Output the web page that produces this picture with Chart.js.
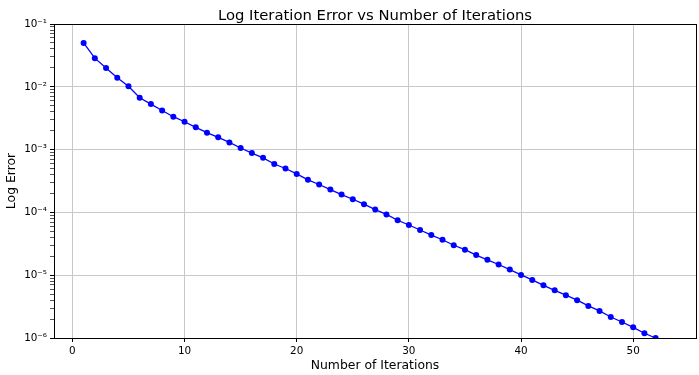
<!DOCTYPE html>
<html>
<head>
<meta charset="utf-8">
<script src="https://cdn.jsdelivr.net/npm/chart.js@4/dist/chart.umd.min.js"></script>
<style>
  html, body { margin: 0; padding: 0; background: #fff; }
  #wrap { width: 699px; height: 375px; }
</style>
</head>
<body>
<div id="wrap"><canvas id="errorChart" width="699" height="375"></canvas></div>
<script>
const iterations = [1, 2, 3, 4, 5, 6, 7, 8, 9, 10, 11, 12, 13, 14, 15, 16, 17, 18, 19, 20,
    21, 22, 23, 24, 25, 26, 27, 28, 29, 30, 31, 32, 33, 34, 35, 36, 37, 38, 39, 40,
    41, 42, 43, 44, 45, 46, 47, 48, 49, 50, 51, 52];
const errors = [0.05, 0.0286, 0.020, 0.0139, 0.0102, 0.0067, 0.0053, 0.0042, 0.00334, 0.00278,
    0.00226, 0.00186, 0.00157, 0.0013, 0.00106, 0.00088, 0.00074, 0.00059, 0.0005, 0.00041,
    0.00033, 0.000278, 0.000231, 0.000192, 0.000162, 0.000135, 0.000111, 9.3e-5, 7.5e-5, 6.3e-5,
    5.25e-5, 4.36e-5, 3.67e-5, 3.0e-5, 2.55e-5, 2.09e-5, 1.76e-5, 1.48e-5, 1.23e-5, 1.01e-5,
    8.4e-6, 6.9e-6, 5.75e-6, 4.8e-6, 4.0e-6, 3.24e-6, 2.7e-6, 2.16e-6, 1.8e-6, 1.48e-6,
    1.19e-6, 1.0e-6];
const xTicks = [0, 10, 20, 30, 40, 50];
const yDecades = [-6, -5, -4, -3, -2, -1];
const superDigits = { '-': '⁻', '0': '⁰', '1': '¹', '2': '²', '3': '³', '4': '⁴', '5': '⁵', '6': '⁶', '7': '⁷', '8': '⁸', '9': '⁹' };

function isMajor(v) {
    const l = Math.log10(v);
    return Math.abs(l - Math.round(l)) < 1e-9;
}
function powLabel(v) {
    const e = String(Math.round(Math.log10(v)));
    return '10' + e.split('').map(c => superDigits[c]).join('');
}

Chart.defaults.font.family = "'DejaVu Sans', sans-serif";
Chart.defaults.color = '#000';

// title centred over the axes + black box round the plot
const frame = {
    id: 'frame',
    afterDraw(chart) {
        const { ctx, chartArea: a } = chart;
        ctx.save();
        ctx.strokeStyle = '#000';
        ctx.lineWidth = 1;
        ctx.strokeRect(Math.round(a.left) + 0.5, Math.round(a.top) + 0.5,
            Math.round(a.right - a.left), Math.round(a.bottom - a.top));
        ctx.fillStyle = '#000';
        ctx.font = "14.8px 'DejaVu Sans'";
        ctx.textAlign = 'center';
        ctx.textBaseline = 'alphabetic';
        ctx.fillText('Log Iteration Error vs Number of Iterations', (a.left + a.right) / 2, a.top - 4);
        ctx.restore();
    }
};

new Chart(document.getElementById('errorChart'), {
    type: 'line',
    data: {
        datasets: [{
            label: 'Log Error',
            data: iterations.map((x, i) => ({ x: x, y: errors[i] })),
            borderColor: '#0000ff',
            backgroundColor: '#0000ff',
            borderWidth: 1.3,
            pointRadius: 3,
            pointHoverRadius: 3,
            pointBorderWidth: 0,
            tension: 0
        }]
    },
    options: {
        responsive: false,
        animation: false,
        layout: { padding: { top: 24, right: 2, left: 0, bottom: 0 } },
        scales: {
            x: {
                type: 'linear',
                min: -1.64,
                max: 55.6,
                afterBuildTicks: s => { s.ticks = xTicks.map(v => ({ value: v })); },
                afterFit: s => { s.height = 37; },
                grid: { color: '#c8c8c8', tickColor: '#000', tickLength: 4, lineWidth: 1 },
                border: { display: false },
                ticks: { font: { size: 10.4 }, padding: 3, maxRotation: 0, autoSkip: false },
                title: { display: true, text: 'Number of Iterations', font: { size: 12.4 }, padding: { top: 0, bottom: 2 } }
            },
            y: {
                type: 'logarithmic',
                min: 1e-6,
                max: 1e-1,
                afterBuildTicks: s => {
                    const t = [];
                    yDecades.forEach(d => {
                        for (let m = 1; m <= 9; m++) {
                            const v = m * Math.pow(10, d);
                            if (v <= 0.1000001) t.push({ value: v });
                        }
                    });
                    s.ticks = t;
                },
                afterFit: s => { s.width = 54; },
                grid: {
                    color: c => (c.tick && isMajor(c.tick.value)) ? '#c8c8c8' : 'rgba(0,0,0,0)',
                    tickColor: c => (c.tick && isMajor(c.tick.value)) ? '#000' : '#555',
                    tickLength: 4,
                    lineWidth: 1
                },
                border: { display: false },
                ticks: {
                    font: { size: 10.4 },
                    padding: 3,
                    autoSkip: false,
                    callback: v => isMajor(v) ? powLabel(v) : ''
                },
                title: { display: true, text: 'Log Error', font: { size: 12.4 }, padding: { top: 4, bottom: 0 } }
            }
        },
        plugins: {
            legend: { display: false },
            tooltip: { enabled: false }
        }
    },
    plugins: [frame]
});
</script>
</body>
</html>
